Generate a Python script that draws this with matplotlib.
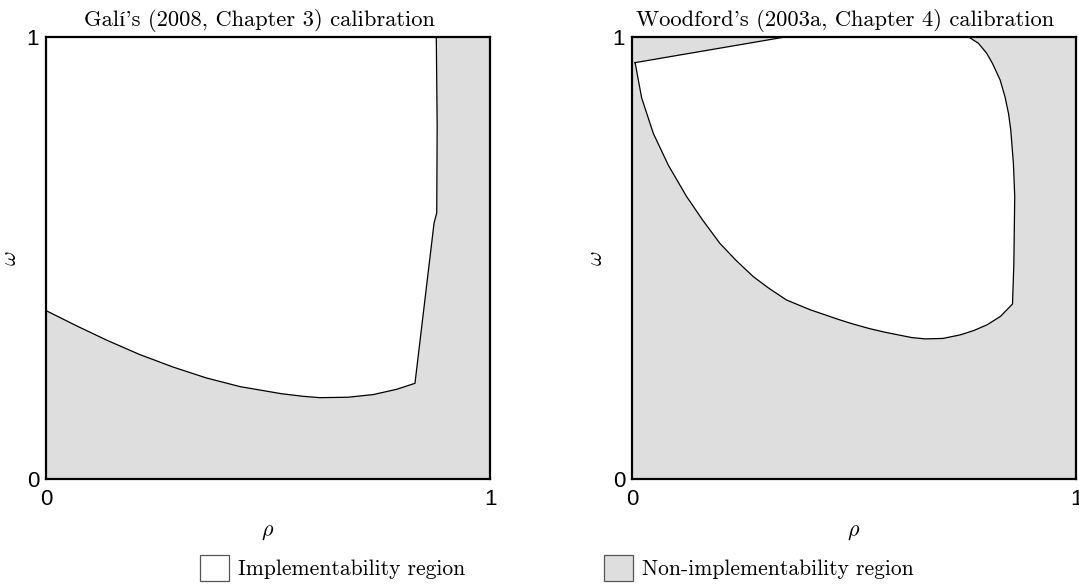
import matplotlib
matplotlib.use("Agg")
import matplotlib.pyplot as plt
from matplotlib.patches import Patch

# boundary of the implementability region (rho, omega)
gali_rho = [0.0, 0.07, 0.137, 0.21, 0.287, 0.36, 0.437, 0.53, 0.58, 0.617, 0.68,
            0.737, 0.79, 0.831, 0.874, 0.880, 0.881, 0.879]
gali_omega = [0.381, 0.346, 0.314, 0.282, 0.253, 0.229, 0.209, 0.193, 0.187, 0.184, 0.185,
              0.191, 0.203, 0.2165, 0.579, 0.602, 0.80, 1.0]

wood_rho = [0.007, 0.345, 0.758, 0.780, 0.799, 0.812, 0.829, 0.840, 0.848, 0.853,
            0.859, 0.862, 0.861, 0.860, 0.857,
            0.83, 0.80, 0.77, 0.739, 0.70, 0.66, 0.63, 0.60, 0.57, 0.536, 0.50,
            0.468, 0.401, 0.348, 0.309, 0.273, 0.234, 0.198, 0.159, 0.123,
            0.0818, 0.048, 0.0218, 0.007]
wood_omega = [0.942, 1.0, 1.0, 0.986, 0.963, 0.940, 0.903, 0.865, 0.827, 0.790,
              0.714, 0.639, 0.563, 0.488, 0.396,
              0.368, 0.349, 0.336, 0.326, 0.318, 0.317, 0.320, 0.326, 0.332, 0.340, 0.350,
              0.360, 0.383, 0.405, 0.431, 0.458, 0.495, 0.533, 0.586, 0.639,
              0.710, 0.782, 0.862, 0.942]

titles = ["Galí's (2008, Chapter 3) calibration",
          "Woodford's (2003a, Chapter 4) calibration"]
legend_labels = ["Implementability region", "Non-implementability region"]

gray = "#dedede"
serif = ["cmr10", "Liberation Serif"]
plt.rcParams["axes.formatter.use_mathtext"] = True
plt.rcParams["mathtext.fontset"] = "cm"

fig = plt.figure(figsize=(10.79, 5.88), dpi=100)
ax1 = fig.add_axes([46 / 1079, 109 / 588, 444 / 1079, 442 / 588])
ax2 = fig.add_axes([632 / 1079, 109 / 588, 444 / 1079, 442 / 588])

# Galí: white region is everything above / left of the boundary
ax1.set_facecolor(gray)
ax1.fill([0.0] + gali_rho, [1.0] + gali_omega, color="white", lw=0)
ax1.plot(gali_rho, gali_omega, color="black", lw=0.9)

# Woodford: closed white region
ax2.set_facecolor(gray)
ax2.fill(wood_rho, wood_omega, color="white", lw=0)
ax2.plot(wood_rho, wood_omega, color="black", lw=0.9)

for ax, title in zip([ax1, ax2], titles):
    ax.set_xlim(0, 1)
    ax.set_ylim(0, 1)
    ax.set_xticks([0, 1])
    ax.set_yticks([0, 1])
    ax.set_xticklabels(["0", "1"], family="Liberation Sans", fontsize=16)
    ax.set_yticklabels(["0", "1"], family="Liberation Sans", fontsize=16)
    ax.tick_params(length=0, pad=5)
    ax.tick_params(axis="x", pad=7)
    for s in ax.spines.values():
        s.set_linewidth(1.6)
    ax.set_xlabel(r"$\rho$", fontsize=16, labelpad=9)
    ax.set_ylabel(r"$\omega$", fontsize=16, labelpad=5)
    ax.set_title(title, family=serif, fontsize=16.2, pad=8, x=0.48)

handles = [Patch(facecolor="white", edgecolor="#555555", lw=0.9),
           Patch(facecolor=gray, edgecolor="#555555", lw=0.9)]
anchors = [(200 / 1079, 1 - 568 / 588), (604 / 1079, 1 - 568 / 588)]
for h, lab, anc in zip(handles, legend_labels, anchors):
    fig.legend([h], [lab], loc="center left", bbox_to_anchor=anc, frameon=False,
               borderpad=0, borderaxespad=0, handlelength=1.35, handleheight=1.5,
               handletextpad=0.42, prop={"family": serif, "size": 15.5})

fig.savefig("out.png", dpi=100)
